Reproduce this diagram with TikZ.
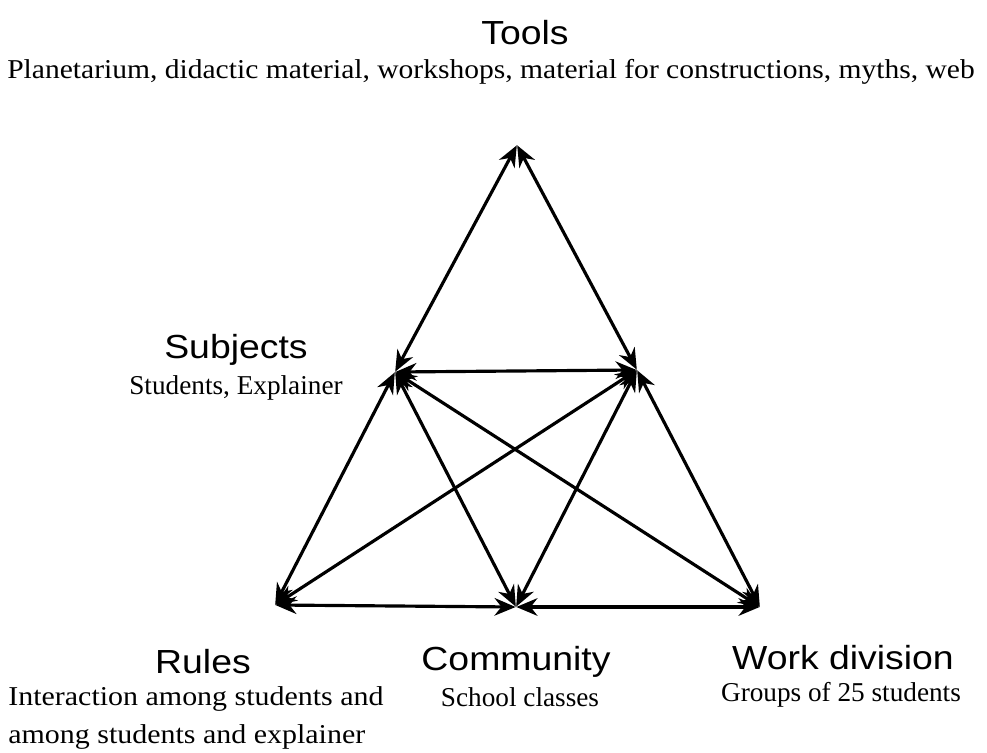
\documentclass[tikz,border=0pt]{standalone}
\usepackage{fontspec}
\setmainfont{Liberation Serif}
\setsansfont{Liberation Sans}
\usetikzlibrary{arrows.meta,positioning}

\tikzset{
  corner/.style={inner sep=0pt,minimum size=0pt},
  head/.style={font=\sffamily\fontsize{19}{22}\selectfont,inner sep=0pt,xscale=1.12,transform shape},
  desc/.style={font=\rmfamily\fontsize{15.5}{21.5}\selectfont,inner sep=0pt},
  link/.style={line width=1.8pt,{Stealth[length=12pt,width=10pt]}-{Stealth[length=12pt,width=10pt]}}
}

\begin{document}
\begin{tikzpicture}[x=0.02cm,y=-0.02cm]
    \useasboundingbox (0,0) rectangle (987,753);
    % corners of the triangle
    \node[corner] (tool) at (517,145) {};
    \node[corner] (subj) at (395,372) {};
    \node[corner] (obj)  at (637,370) {};
    \node[corner] (rule) at (275,605) {};
    \node[corner] (comm) at (516,607) {};
    \node[corner] (div)  at (760,607) {};
    % links
    \path[link]
      (tool) edge (subj)
             edge (obj)
      (subj) edge (obj)
             edge (rule)
             edge (comm)
             edge (div)
      (obj)  edge (rule)
             edge (comm)
             edge (div)
      (rule) edge (comm)
      (comm) edge (div);
    % labels
    \node[head] (toolT) at (525,33) {Tools};
    \node[desc,xscale=1.085,transform shape] (toolD) at (491,72) {Planetarium, didactic material, workshops, material for constructions, myths, web};
    \node[head] (subjT) at (236,350) {Subjects};
    \node[desc] (subjD) at (236,388) {Students, Explainer};
    \node[head] (ruleT) at (203,662) {Rules};
    \node[desc,anchor=north west,align=left,xscale=1.1,transform shape] (ruleD) at (8,686) {Interaction among students and\\among students and explainer};
    \node[head] (commT) at (516,662) {Community};
    \node[desc] (commD) at (520,697) {School classes};
    \node[head] (divT) at (843,658) {Work division};
    \node[desc] (divD) at (841,695) {Groups of 25 students};
\end{tikzpicture}
\end{document}
